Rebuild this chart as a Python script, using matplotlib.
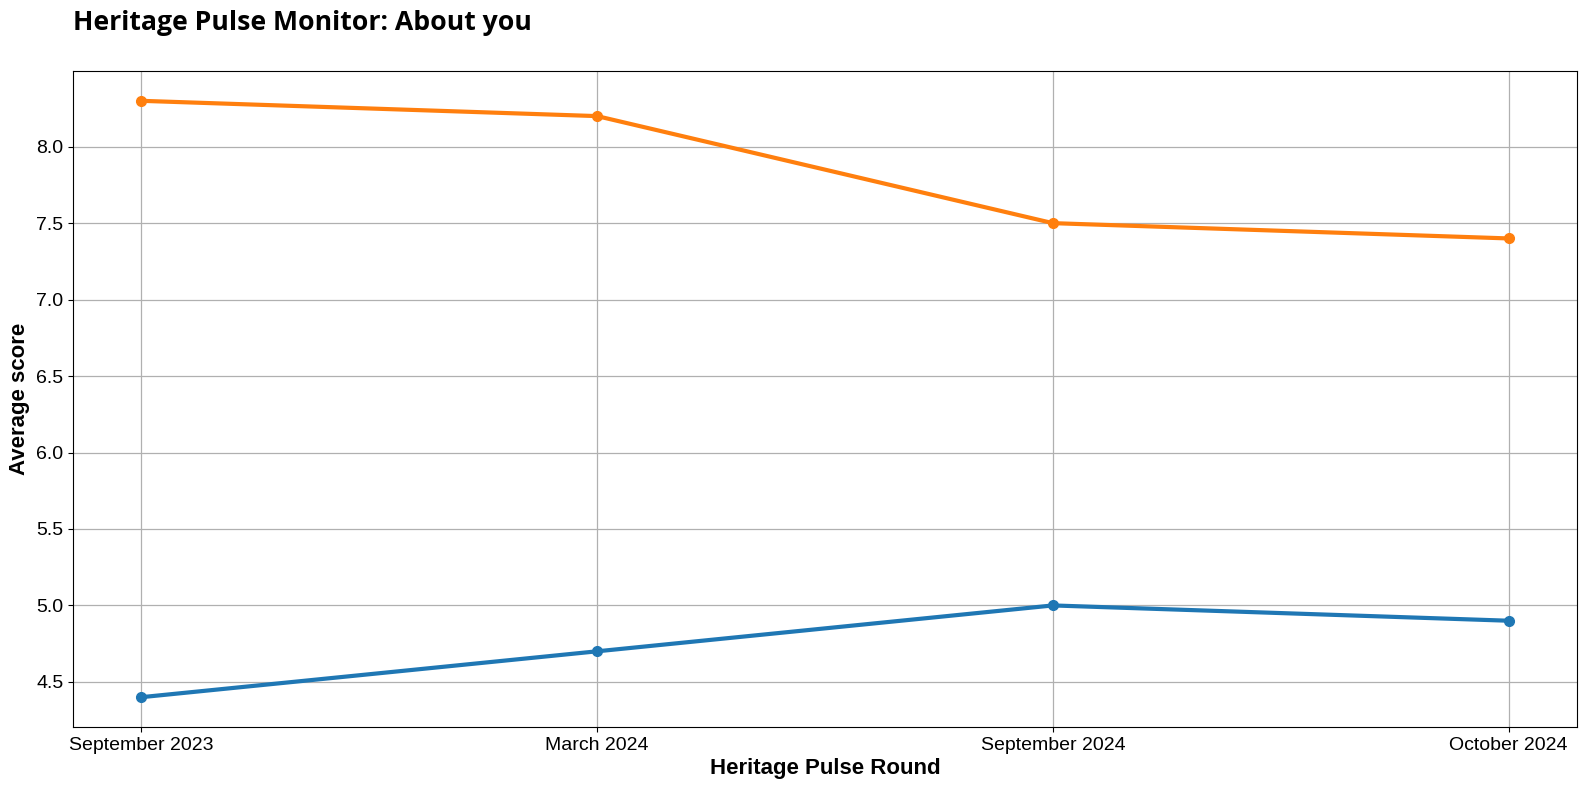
import matplotlib
matplotlib.use("Agg")
from matplotlib import pyplot as plt

rounds = ["September 2023", "March 2024", "September 2024", "October 2024"]
series_a = [4.4, 4.7, 5.0, 4.9]
series_b = [8.3, 8.2, 7.5, 7.4]

plt.rcParams["font.family"] = ["Liberation Sans", "DejaVu Sans"]

fig = plt.figure(figsize=(15.87, 7.9), dpi=100)
ax = fig.add_axes([73 / 1587, 1 - 727 / 790, (1577 - 73) / 1587, (727 - 71) / 790])

ax.plot(rounds, series_a, marker="o", linewidth=3, markersize=7, color="#1f77b4")
ax.plot(rounds, series_b, marker="o", linewidth=3, markersize=7, color="#ff7f0e")

ax.grid(True, color="#b0b0b0", linewidth=0.9)
ax.set_axisbelow(True)
ax.tick_params(labelsize=14)
ax.set_xlabel("Heritage Pulse Round", fontsize=16, fontweight="bold", labelpad=3)
ax.set_ylabel("Average score", fontsize=16, fontweight="bold")

fig.text(73 / 1587, 1 - 23 / 790, "Heritage Pulse Monitor: About you",
         fontsize=19.2, fontweight="bold", family=["Open Sans", "DejaVu Sans"],
         ha="left", va="center")

fig.savefig("out.png", dpi=100)
